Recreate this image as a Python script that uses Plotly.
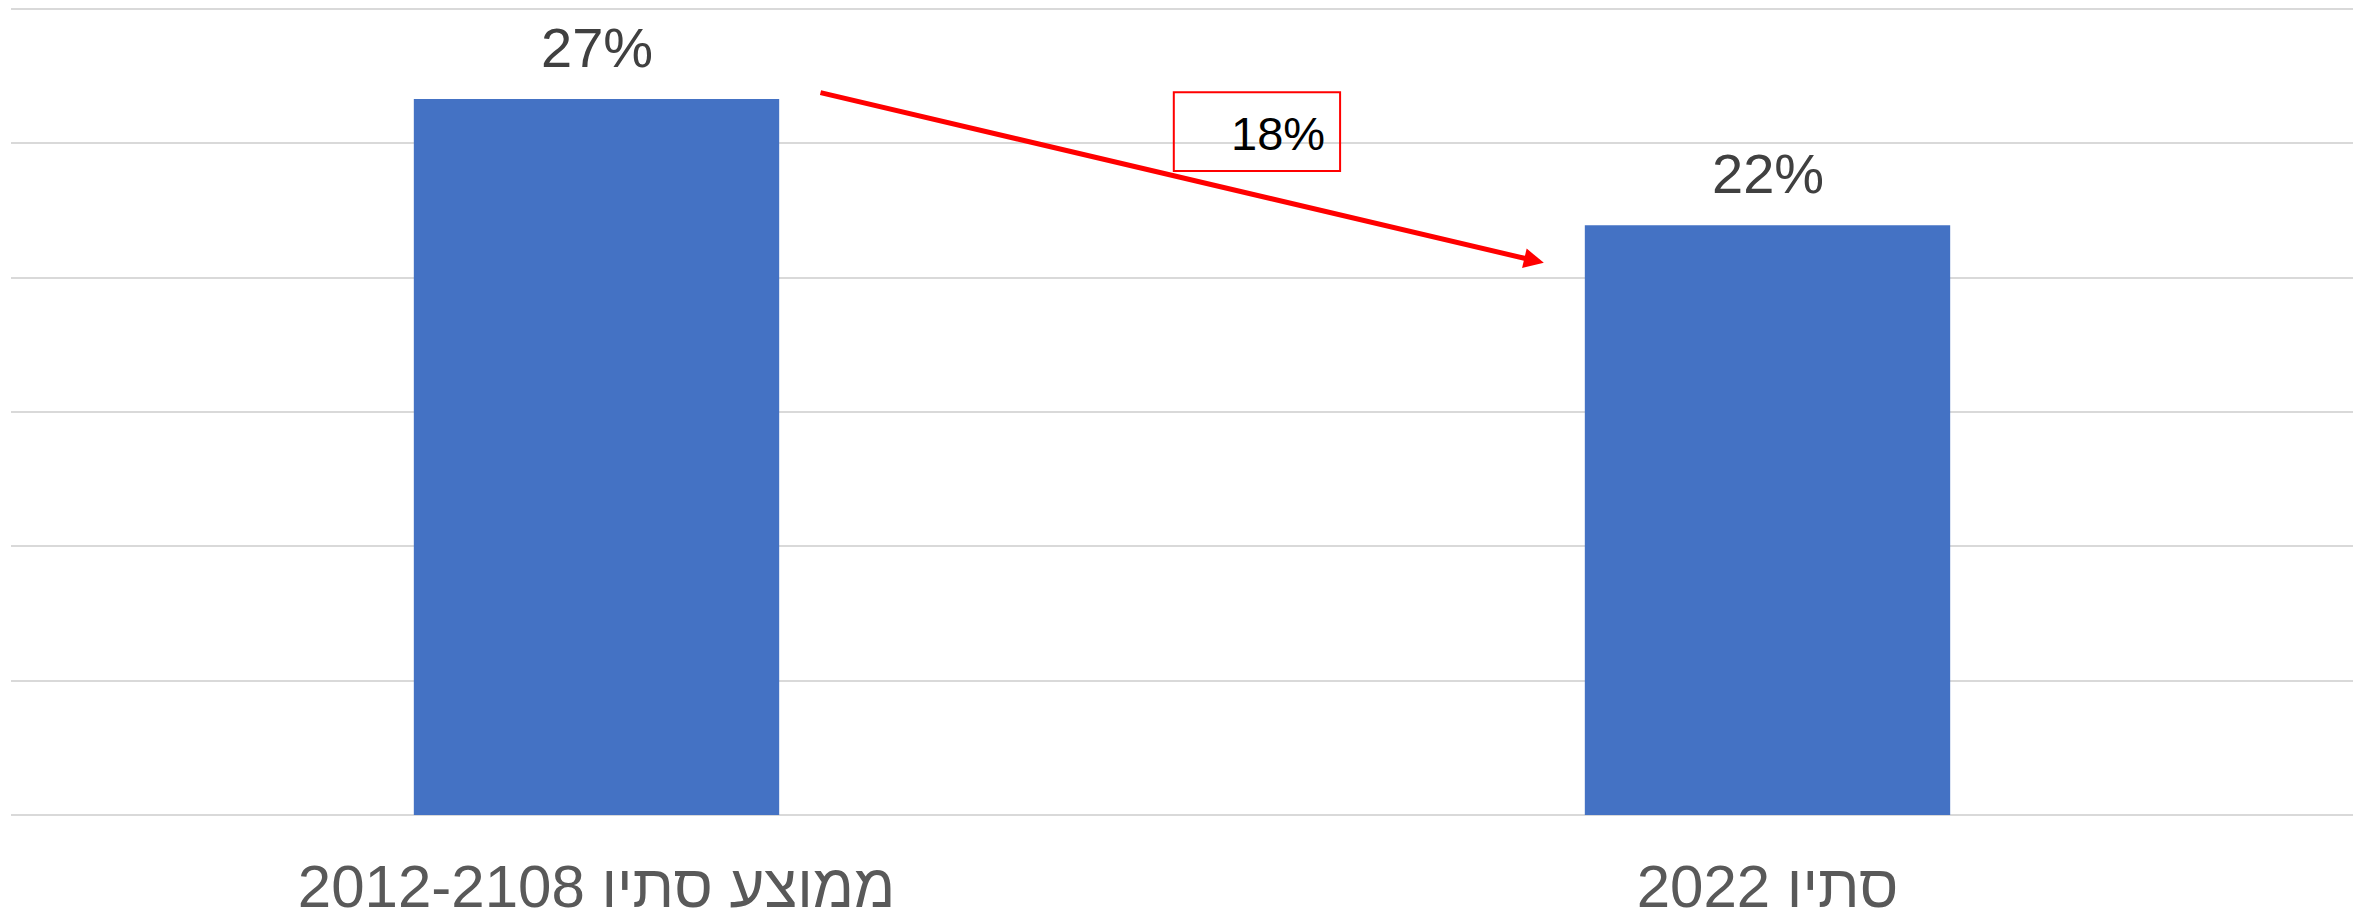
import plotly.graph_objects as go

categories = ["ממוצע סתיו 2012-2108", "סתיו 2022"]
values = [26.65, 21.95]
value_labels = ["27%", "22%"]
change_label = "18%"

W, H = 2364, 922
FONT = "Liberation Sans, Arial, sans-serif"

fig = go.Figure()
fig.add_trace(go.Bar(
    x=[0, 1], y=values,
    marker=dict(color="#4472C4", line=dict(width=0)),
    width=0.312,
    hoverinfo="skip",
))

annotations = []
for i, (v, t) in enumerate(zip(values, value_labels)):
    annotations.append(dict(
        x=i, y=v, xref="x", yref="y", text=t, showarrow=False,
        yanchor="bottom", yshift=18,
        font=dict(family=FONT, size=56, color="#404040"),
    ))

# arrow from first bar towards second bar
annotations.append(dict(
    x=0.809, y=20.55, ax=0.19, ay=26.9,
    xref="x", yref="y", axref="x", ayref="y",
    text="", showarrow=True, arrowhead=2, arrowsize=0.8, arrowwidth=5,
    arrowcolor="#FF0000",
))
annotations.append(dict(
    x=0.582, y=25.35, xref="x", yref="y", text=change_label, showarrow=False,
    font=dict(family=FONT, size=47, color="#000000"),
))

fig.update_layout(
    width=W, height=H,
    margin=dict(l=11, r=11, t=6, b=107),
    paper_bgcolor="white", plot_bgcolor="white",
    showlegend=False,
    annotations=annotations,
    shapes=[dict(type="rect", xref="x", yref="y", x0=0.493, x1=0.635, y0=23.97, y1=26.9,
                 line=dict(color="#FF0000", width=2), fillcolor="rgba(0,0,0,0)")],
    xaxis=dict(
        range=[-0.5, 1.5], tickmode="array", tickvals=[0, 1], ticktext=categories,
        showgrid=False, zeroline=False, showline=False, ticks="",
        tickfont=dict(family=FONT, size=60, color="#595959"),
        ticklabelstandoff=31, automargin=False,
    ),
    yaxis=dict(
        range=[0, 30.11], tickvals=[5, 10, 15, 20, 25, 30], showticklabels=False, ticks="",
        showgrid=True, gridcolor="#D9D9D9", gridwidth=2,
        zeroline=True, zerolinecolor="#D9D9D9", zerolinewidth=2,
        showline=False, automargin=False,
    ),
)

fig.write_html("out.html", config={"displayModeBar": False},
               post_script="document.body.style.margin='0';")
